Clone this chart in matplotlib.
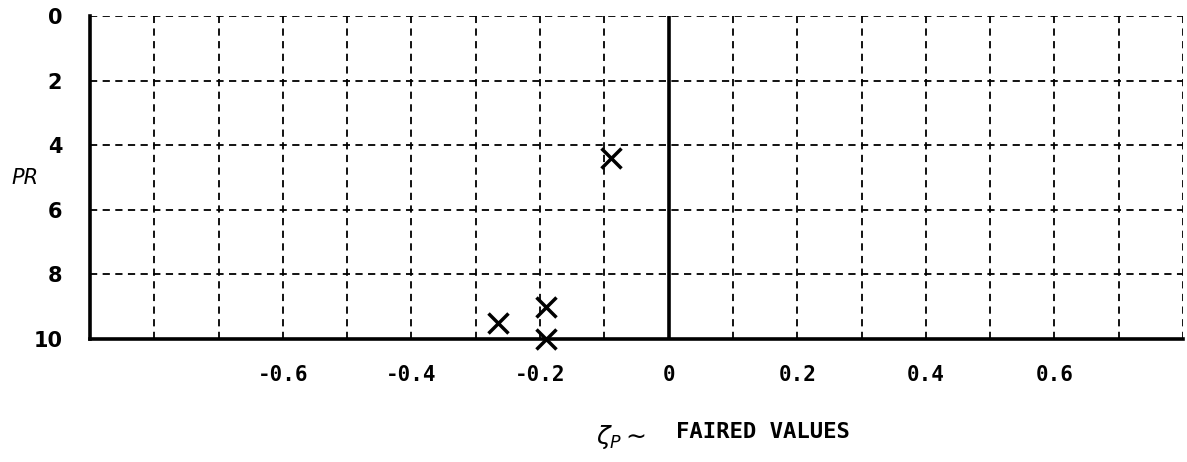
import matplotlib
matplotlib.use("Agg")
import matplotlib.pyplot as plt
import numpy as np

# valores
zeta_p = [-0.09, -0.265, -0.19, -0.19]
pr = [4.4, 9.5, 9.0, 10.0]

x_ticks = [-0.6, -0.4, -0.2, 0, 0.2, 0.4, 0.6]
x_labels = ["-0.6", "-0.4", "-0.2", "0", "0.2", "0.4", "0.6"]
y_ticks = [0, 2, 4, 6, 8, 10]
y_labels = ["0", "2", "4", "6", "8", "10"]

plt.rcParams['font.family'] = ['DejaVu Sans Mono', 'DejaVu Sans']

fig = plt.figure(figsize=(11.87, 4.62), dpi=100)
ax = fig.add_axes([90 / 1187, 1 - 339 / 462, (1183 - 90) / 1187, (339 - 16) / 462])

ax.set_xlim(-0.9, 0.8)
ax.set_ylim(10, 0)

# grade tracejada
for gx in np.arange(-0.8, 0.81, 0.1):
    ax.axvline(gx, color='black', lw=1.3, ls=(0, (4, 3)), zorder=1)
for gy in range(0, 10, 2):
    ax.axhline(gy, color='black', lw=1.3, ls=(0, (4, 3)), zorder=1)

ax.axvline(0, color='black', lw=2.6, zorder=2)

ax.plot(zeta_p, pr, 'x', color='black', markersize=14, mew=2.5, clip_on=False, zorder=3)

ax.spines['top'].set_visible(False)
ax.spines['right'].set_visible(False)
ax.spines['left'].set_linewidth(2.6)
ax.spines['bottom'].set_linewidth(2.6)

ax.set_xticks(x_ticks)
ax.set_xticklabels(x_labels, fontsize=15, fontweight='bold')
ax.set_yticks(y_ticks)
ax.set_yticklabels(y_labels, fontsize=15, fontweight='bold', family='DejaVu Sans')
ax.tick_params(axis='x', length=0, pad=19)
ax.tick_params(axis='y', length=0, pad=20)

fig.text(25 / 1187, 1 - 178 / 462, "PR", fontsize=15, style='italic',
         family='DejaVu Sans', ha='center', va='center')
fig.text(596 / 1187, 1 - 437 / 462, r"$\zeta_P\sim$", fontsize=18, ha='left', va='center')
fig.text(676 / 1187, 1 - 432 / 462, "FAIRED VALUES", fontsize=16, fontweight='bold',
         ha='left', va='center')

fig.savefig("out.png", dpi=100)
